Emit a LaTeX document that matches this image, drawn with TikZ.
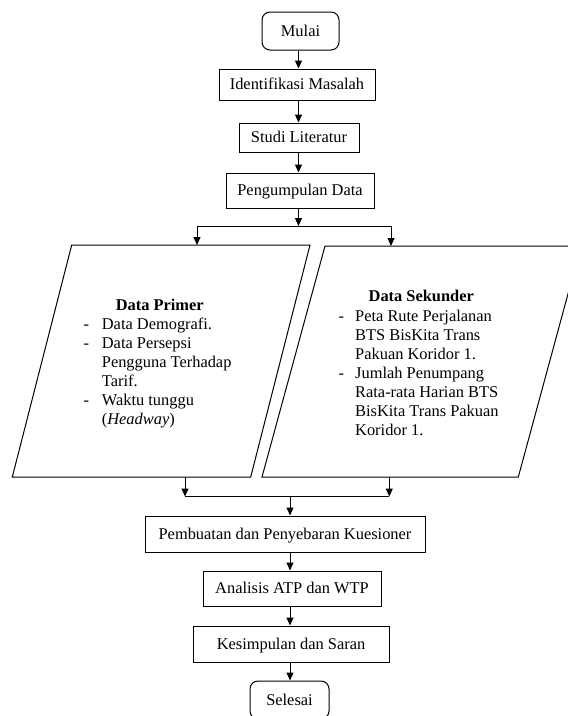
\documentclass[tikz,border=0pt]{standalone}
\usepackage{fontspec}
\setmainfont{Liberation Serif}
\usetikzlibrary{arrows.meta}
\begin{document}
\begin{tikzpicture}[x=1pt,y=-1pt,
  txt/.style={font=\fontsize{16.4}{19}\selectfont, inner sep=0pt},
  box/.style={txt, draw, line width=1pt, text height=10.8pt, text depth=0pt, anchor=center},
  term/.style={box, rounded corners=8pt},
  arr/.style={line width=1pt, -{Triangle[length=8pt,width=7pt]}},
  ln/.style={line width=1pt}]
\useasboundingbox (0,0) rectangle (568,716);
\fill[white] (0,0) rectangle (568,716);
\clip (0,0) rectangle (568,716);

% axes for vertical connectors
\coordinate (axU) at (298.5,0);
\coordinate (axL) at (290,0);

% upper chain
\node[term, minimum width=77pt, minimum height=38pt] (mulai) at (300.5,31) {Mulai};
\node[box, minimum width=156pt, minimum height=31pt] (ident) at (297,84.5) {Identifikasi Masalah};
\node[box, minimum width=120pt, minimum height=29pt] (studi) at (299,137.5) {Studi Literatur};
\node[box, minimum width=148pt, minimum height=35pt] (peng) at (300,190.5) {Pengumpulan Data};

\draw[arr] (mulai.south -| axU) -- (ident.north -| axU);
\draw[arr] (ident.south -| axU) -- (studi.north -| axU);
\draw[arr] (studi.south -| axU) -- (peng.north -| axU);

% split
\coordinate (split) at (298.5,226);
\coordinate (splitL) at (197,226);
\coordinate (splitR) at (391,226);
\coordinate (primIn) at (197,245);
\coordinate (sekIn) at (391,246);
\draw[arr] (peng.south -| axU) -- (split);
\draw[ln] (splitL) -- (splitR);
\draw[arr] (splitL) -- (primIn);
\draw[arr] (splitR) -- (sekIn);

% parallelograms
\draw[ln] (71.7,245) -- (310,245) -- (250.7,477) -- (12.3,477) -- cycle;
\draw[ln] (325,246) -- (581,246) -- (518.3,477) -- (262,477) -- cycle;

% Data Primer text
\node[txt, font=\fontsize{16.4}{19}\selectfont\bfseries, anchor=base] (primT) at (159.7,310) {Data Primer};
\node[txt, anchor=base west] (primL) at (83.5,329.3) {\begin{tabular}[t]{@{}p{18.2pt}@{}l@{}}
- & Data Demografi.\\
- & Data Persepsi\\
  & Pengguna Terhadap\\
  & Tarif.\\
- & Waktu tunggu\\
  & (\textit{Headway})
\end{tabular}};

% Data Sekunder text
\node[txt, font=\fontsize{16.4}{19}\selectfont\bfseries, anchor=base] (sekT) at (421.3,301.7) {Data Sekunder};
\node[txt, anchor=base west] (sekL) at (338.5,321) {\begin{tabular}[t]{@{}p{16.5pt}@{}l@{}}
- & Peta Rute Perjalanan\\
  & BTS BisKita Trans\\
  & Pakuan Koridor 1.\\
- & Jumlah Penumpang\\
  & Rata-rata Harian BTS\\
  & BisKita Trans Pakuan\\
  & Koridor 1.
\end{tabular}};

% merge
\coordinate (primOut) at (185,477);
\coordinate (sekOut) at (389.3,477);
\coordinate (mergeL) at (185,496.5);
\coordinate (mergeR) at (389.3,496.5);
\coordinate (merge) at (290,496.5);
\draw[arr] (primOut) -- (mergeL);
\draw[arr] (sekOut) -- (mergeR);
\draw[ln] (mergeL) -- (mergeR);

% lower chain
\node[box, minimum width=280pt, minimum height=36pt] (pemb) at (285,534) {Pembuatan dan Penyebaran Kuesioner};
\node[box, minimum width=178pt, minimum height=35pt] (anal) at (292,588.5) {Analisis ATP dan WTP};
\node[box, minimum width=196pt, minimum height=36pt] (kesi) at (291,644) {Kesimpulan dan Saran};
\node[term, minimum width=79pt, minimum height=38pt] (sele) at (289.5,700) {Selesai};

\draw[arr] (merge) -- (pemb.north -| axL);
\draw[arr] (pemb.south -| axL) -- (anal.north -| axL);
\draw[arr] (anal.south -| axL) -- (kesi.north -| axL);
\draw[arr] (kesi.south -| axL) -- (sele.north -| axL);
\end{tikzpicture}
\end{document}
